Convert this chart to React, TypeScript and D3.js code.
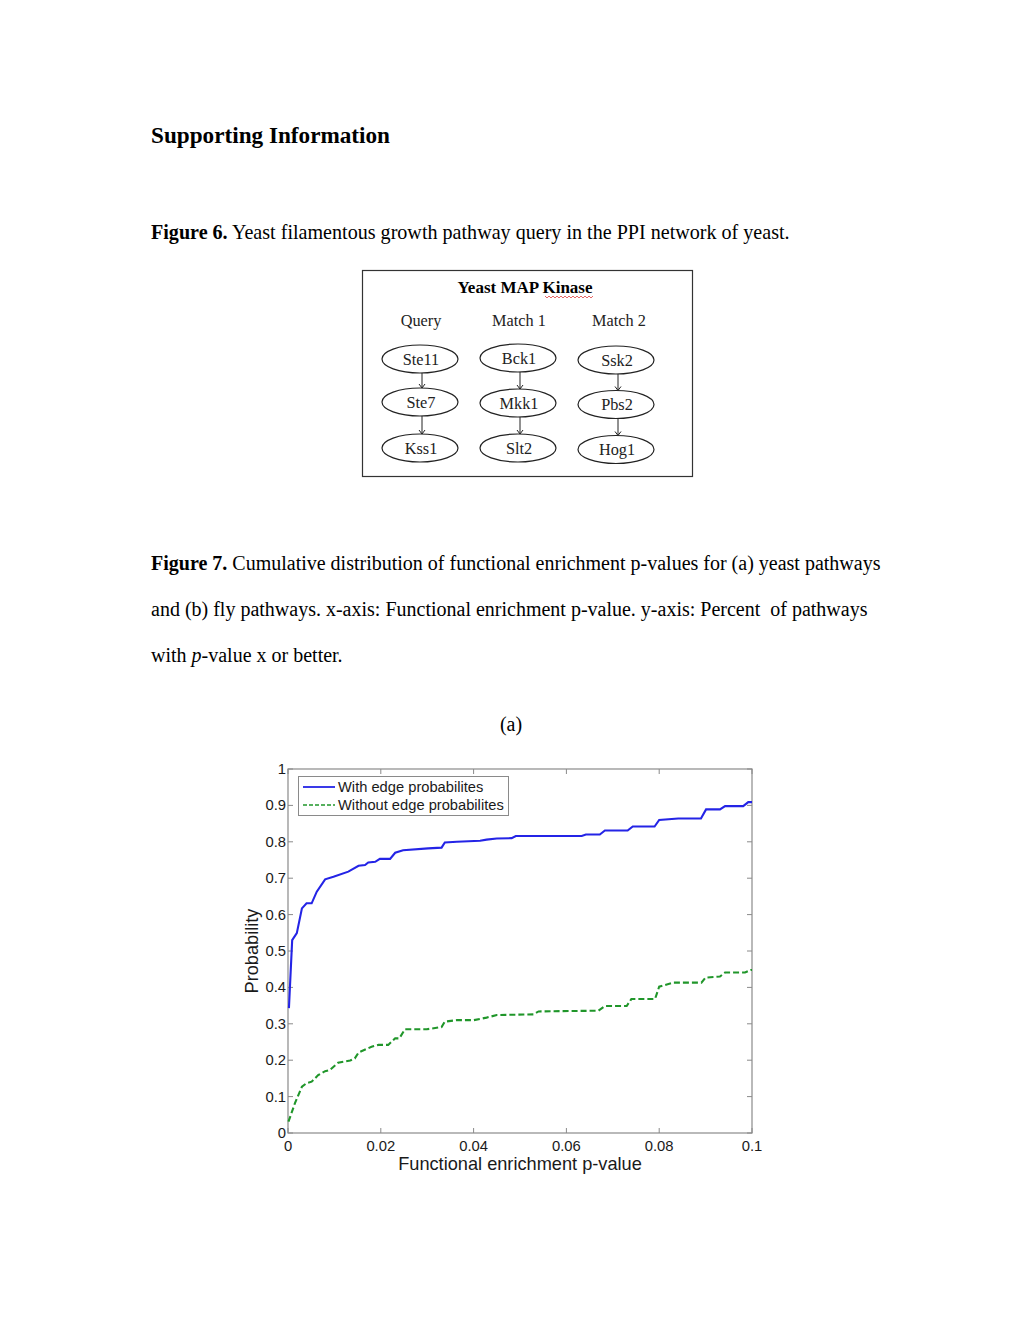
import { useEffect, useRef } from 'react';
import * as d3 from 'd3';

// Figure 7(a) curves (x = p-value, y = probability)
const withEdgeX = [0.0002, 0.0009, 0.0019, 0.0030, 0.0040, 0.0051, 0.0062, 0.0080, 0.0098, 0.0130, 0.0152, 0.0166, 0.0173, 0.0188, 0.0198, 0.0220, 0.0231, 0.0248, 0.0302, 0.0331, 0.0338, 0.0364, 0.0414, 0.0428, 0.0450, 0.0482, 0.0491, 0.0633, 0.0642, 0.0672, 0.0683, 0.0732, 0.0743, 0.0790, 0.0800, 0.0841, 0.0890, 0.0901, 0.0931, 0.0942, 0.0981, 0.0992, 0.1000];
const withEdgeY = [0.343, 0.530, 0.549, 0.617, 0.631, 0.631, 0.663, 0.697, 0.704, 0.718, 0.734, 0.736, 0.743, 0.745, 0.753, 0.753, 0.770, 0.777, 0.782, 0.784, 0.798, 0.800, 0.803, 0.806, 0.809, 0.810, 0.816, 0.816, 0.820, 0.820, 0.831, 0.831, 0.842, 0.842, 0.860, 0.864, 0.864, 0.889, 0.889, 0.898, 0.898, 0.909, 0.909];

const withoutEdgeX = [0.0001, 0.0015, 0.0030, 0.0040, 0.0051, 0.0065, 0.0080, 0.0090, 0.0108, 0.0134, 0.0144, 0.0152, 0.0180, 0.0195, 0.0216, 0.0231, 0.0240, 0.0252, 0.0299, 0.0331, 0.0338, 0.0364, 0.0400, 0.0428, 0.0450, 0.0529, 0.0540, 0.0669, 0.0683, 0.0730, 0.0740, 0.0791, 0.0800, 0.0830, 0.0891, 0.0900, 0.0931, 0.0942, 0.0985, 0.0997, 0.1000];
const withoutEdgeY = [0.031, 0.082, 0.127, 0.137, 0.141, 0.159, 0.170, 0.173, 0.193, 0.199, 0.205, 0.221, 0.237, 0.242, 0.242, 0.260, 0.260, 0.285, 0.285, 0.291, 0.306, 0.310, 0.310, 0.317, 0.324, 0.326, 0.334, 0.336, 0.349, 0.349, 0.368, 0.368, 0.402, 0.413, 0.413, 0.427, 0.430, 0.441, 0.441, 0.448, 0.448];

const xTicks = [0, 0.02, 0.04, 0.06, 0.08, 0.1];
const yTicks = [0, 0.1, 0.2, 0.3, 0.4, 0.5, 0.6, 0.7, 0.8, 0.9, 1];
const legendLabels = ['With edge probabilites', 'Without edge probabilites'];

// Figure 6 pathway columns
const columnTitles = ['Query', 'Match 1', 'Match 2'];
const columnNodes = [
  ['Ste11', 'Ste7', 'Kss1'],
  ['Bck1', 'Mkk1', 'Slt2'],
  ['Ssk2', 'Pbs2', 'Hog1'],
];

const SERIF = '"Liberation Serif", "Times New Roman", serif';
const SANS = '"Liberation Sans", Arial, Helvetica, sans-serif';

const App = () => {
  const svgRef = useRef<SVGSVGElement>(null);

  useEffect(() => {
    if (!svgRef.current) return;
    const svg = d3.select(svgRef.current);
    svg.selectAll('*').remove();

    svg.append('rect').attr('width', 1020).attr('height', 1320).attr('fill', '#fff');

    // page text
    svg.append('text')
      .attr('x', 151).attr('y', 143)
      .attr('font-family', SERIF).attr('font-size', 23.2).attr('font-weight', 'bold')
      .text('Supporting Information');

    const cap6 = svg.append('text')
      .attr('x', 151).attr('y', 239)
      .attr('font-family', SERIF).attr('font-size', 20.1);
    cap6.append('tspan').attr('font-weight', 'bold').text('Figure 6.');
    cap6.append('tspan').text(' Yeast filamentous growth pathway query in the PPI network of yeast.');

    const cap7 = svg.append('text')
      .attr('font-family', SERIF).attr('font-size', 20)
      .attr('xml:space', 'preserve').style('white-space', 'pre');
    cap7.append('tspan').attr('x', 151).attr('y', 570).attr('font-weight', 'bold').text('Figure 7.');
    cap7.append('tspan').text(' Cumulative distribution of functional enrichment p-values for (a) yeast pathways');
    cap7.append('tspan').attr('x', 151).attr('y', 616)
      .text('and (b) fly pathways. x-axis: Functional enrichment p-value. y-axis: Percent  of pathways');
    cap7.append('tspan').attr('x', 151).attr('y', 662).text('with ');
    cap7.append('tspan').attr('font-style', 'italic').text('p');
    cap7.append('tspan').text('-value x or better.');

    svg.append('text')
      .attr('x', 511).attr('y', 731).attr('text-anchor', 'middle')
      .attr('font-family', SERIF).attr('font-size', 20)
      .text('(a)');

    // Figure 6 diagram
    const fig6 = svg.append('g');
    fig6.append('rect')
      .attr('x', 362.5).attr('y', 270.5).attr('width', 330).attr('height', 206)
      .attr('fill', '#fff').attr('stroke', '#333').attr('stroke-width', 1.2);
    fig6.append('text')
      .attr('x', 525).attr('y', 293).attr('text-anchor', 'middle')
      .attr('font-family', SERIF).attr('font-size', 17).attr('font-weight', 'bold')
      .text('Yeast MAP Kinase');
    // spell-check squiggle under "Kinase"
    const wave: [number, number][] = [];
    for (let px = 545; px <= 593; px += 2) wave.push([px, px % 4 === 1 ? 296 : 298]);
    fig6.append('path')
      .attr('d', d3.line()(wave))
      .attr('fill', 'none').attr('stroke', '#e04040').attr('stroke-width', 0.8);

    const colX = [420, 518, 616];
    const rowY = [[359, 402, 448], [358, 403, 448], [360, 404.5, 449.5]];
    const titleX = [421, 519, 619];
    const rx = 38, ry = 14;

    columnTitles.forEach((t, i) => {
      fig6.append('text')
        .attr('x', titleX[i]).attr('y', 326).attr('text-anchor', 'middle')
        .attr('font-family', SERIF).attr('font-size', 16.3).attr('fill', '#222')
        .text(t);
    });

    columnNodes.forEach((nodes, c) => {
      nodes.forEach((n, r) => {
        const cy = rowY[c][r];
        fig6.append('ellipse')
          .attr('cx', colX[c]).attr('cy', cy).attr('rx', rx).attr('ry', ry)
          .attr('fill', '#fff').attr('stroke', '#222').attr('stroke-width', 1.2);
        fig6.append('text')
          .attr('x', colX[c] + 1).attr('y', cy + 5.5).attr('text-anchor', 'middle')
          .attr('font-family', SERIF).attr('font-size', 16.3).attr('fill', '#222')
          .text(n);
        if (r < nodes.length - 1) {
          const ax = colX[c] + 2;
          const y1 = cy + ry;
          const y2 = rowY[c][r + 1] - ry;
          fig6.append('line')
            .attr('x1', ax).attr('x2', ax).attr('y1', y1).attr('y2', y2)
            .attr('stroke', '#222').attr('stroke-width', 1);
          fig6.append('path')
            .attr('d', `M${ax - 3},${y2 - 4} L${ax},${y2} L${ax + 3},${y2 - 4}`)
            .attr('fill', 'none').attr('stroke', '#222').attr('stroke-width', 1);
        }
      });
    });

    // Figure 7(a) chart
    const left = 288, right = 752, top = 769, bottom = 1133;
    const x = d3.scaleLinear().domain([0, 0.1]).range([left, right]);
    const y = d3.scaleLinear().domain([0, 1]).range([bottom, top]);
    const chart = svg.append('g');
    const axisColor = '#8a8a8a';
    const tickLen = 5;

    chart.append('rect')
      .attr('x', left).attr('y', top).attr('width', right - left).attr('height', bottom - top)
      .attr('fill', 'none').attr('stroke', axisColor).attr('stroke-width', 1.2);

    xTicks.forEach((t) => {
      chart.append('line').attr('x1', x(t)).attr('x2', x(t)).attr('y1', bottom).attr('y2', bottom - tickLen)
        .attr('stroke', axisColor);
      chart.append('line').attr('x1', x(t)).attr('x2', x(t)).attr('y1', top).attr('y2', top + tickLen)
        .attr('stroke', axisColor);
      chart.append('text')
        .attr('x', x(t)).attr('y', bottom + 18).attr('text-anchor', 'middle')
        .attr('font-family', SANS).attr('font-size', 14.8).attr('fill', '#1a1a1a')
        .text(d3.format('~g')(t));
    });

    yTicks.forEach((t) => {
      chart.append('line').attr('x1', left).attr('x2', left + tickLen).attr('y1', y(t)).attr('y2', y(t))
        .attr('stroke', axisColor);
      chart.append('line').attr('x1', right).attr('x2', right - tickLen).attr('y1', y(t)).attr('y2', y(t))
        .attr('stroke', axisColor);
      chart.append('text')
        .attr('x', left - 2).attr('y', y(t) + 5).attr('text-anchor', 'end')
        .attr('font-family', SANS).attr('font-size', 14.8).attr('fill', '#1a1a1a')
        .text(d3.format('~g')(t));
    });

    chart.append('text')
      .attr('x', 520).attr('y', 1170).attr('text-anchor', 'middle')
      .attr('font-family', SANS).attr('font-size', 18.2).attr('fill', '#1a1a1a')
      .text('Functional enrichment p-value');
    chart.append('text')
      .attr('transform', `translate(258, ${(top + bottom) / 2}) rotate(-90)`)
      .attr('text-anchor', 'middle')
      .attr('font-family', SANS).attr('font-size', 18.2).attr('fill', '#1a1a1a')
      .text('Probability');

    const line = d3.line<[number, number]>()
      .x((d) => x(d[0]))
      .y((d) => y(d[1]));

    const blue = '#2424e6';
    const green = '#20962a';

    chart.append('path')
      .attr('d', line(withoutEdgeX.map((v, i) => [v, withoutEdgeY[i]] as [number, number])))
      .attr('fill', 'none').attr('stroke', green).attr('stroke-width', 2.1)
      .attr('stroke-dasharray', '6,3');
    chart.append('path')
      .attr('d', line(withEdgeX.map((v, i) => [v, withEdgeY[i]] as [number, number])))
      .attr('fill', 'none').attr('stroke', blue).attr('stroke-width', 2.1);

    // legend
    const lg = chart.append('g');
    lg.append('rect')
      .attr('x', 298.5).attr('y', 776.5).attr('width', 210).attr('height', 39)
      .attr('fill', '#fff').attr('stroke', axisColor).attr('stroke-width', 1);
    [blue, green].forEach((c, i) => {
      const ly = 787 + i * 18;
      lg.append('line')
        .attr('x1', 303).attr('x2', 335).attr('y1', ly).attr('y2', ly)
        .attr('stroke', c).attr('stroke-width', i === 0 ? 1.8 : 1.4)
        .attr('stroke-dasharray', i === 0 ? null : '4,2');
      lg.append('text')
        .attr('x', 338).attr('y', ly + 5)
        .attr('font-family', SANS).attr('font-size', 14.7).attr('fill', '#1a1a1a')
        .text(legendLabels[i]);
    });
  }, []);

  return (
    <svg
      ref={svgRef}
      width={1020}
      height={1320}
      viewBox="0 0 1020 1320"
      style={{ position: 'absolute', left: 0, top: 0, display: 'block' }}
    />
  );
};

export default App;
